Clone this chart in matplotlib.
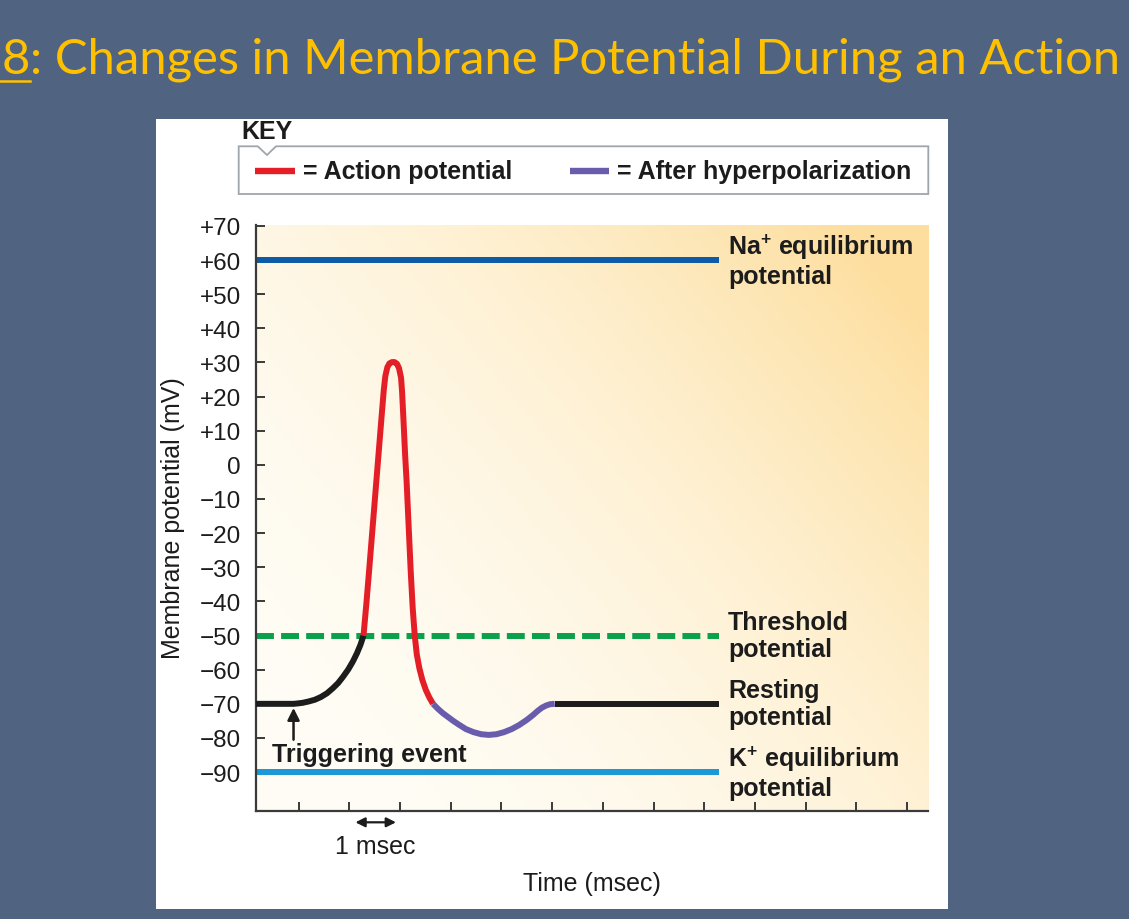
"""Changes in membrane potential during an action potential (slide figure)."""

import numpy as np
import matplotlib
matplotlib.use("Agg")
import matplotlib.pyplot as plt
from matplotlib.lines import Line2D
from matplotlib.patches import Polygon, Rectangle

# time in msec, potential in mV
REST_T = [0.16, 0.90, 0.97, 1.08, 1.20, 1.32, 1.44, 1.56, 1.67, 1.78, 1.88, 1.98, 2.07, 2.15, 2.22, 2.28]
REST_V = [-70, -70, -69.9, -69.7, -69.3, -68.8, -68.0, -66.9, -65.5, -63.9, -62.0, -59.9, -57.6, -55.2, -52.7, -50.0]

SPIKE_T = [2.28, 2.34, 2.39, 2.45, 2.51, 2.57, 2.63, 2.68, 2.71, 2.75, 2.79, 2.84, 2.89, 2.94,
           2.98, 3.02, 3.04, 3.07, 3.10, 3.13, 3.17, 3.21, 3.25, 3.29, 3.33, 3.38, 3.44, 3.51,
           3.58, 3.65]
SPIKE_V = [-50, -40, -31, -20, -9, 2, 13, 22, 26, 28.6, 29.7, 30.1, 30.1, 29.6,
           28.3, 25.5, 21.5, 12.5, 3, -5, -18, -31, -42, -50, -55.5, -59.5, -63, -66,
           -68.2, -70]

AHP_T = [3.65, 3.75, 3.85, 3.95, 4.05, 4.15, 4.30, 4.45, 4.60, 4.75, 4.90, 5.05, 5.20, 5.35,
         5.50, 5.62, 5.72, 5.80, 5.88, 5.96, 6.05]
AHP_V = [-70, -71.5, -72.8, -73.9, -75.0, -76.0, -77.4, -78.3, -78.9, -79.1, -78.9, -78.3, -77.4, -76.2,
         -74.7, -73.3, -72.0, -71.1, -70.5, -70.1, -70]

POST_T = [6.05, 9.29]
POST_V = [-70, -70]

NA_MV = 60
THRESHOLD_MV = -50
REST_MV = -70
K_MV = -90
LEVEL_START, LEVEL_END = 0.16, 9.29

LEVEL_MV = [NA_MV, THRESHOLD_MV, REST_MV, K_MV]
LEVEL_LABELS = [
    "Na$^{\\mathbf{+}}$ equilibrium\npotential",
    "Threshold\npotential",
    "Resting\npotential",
    "K$^{\\mathbf{+}}$ equilibrium\npotential",
]

TRIGGER_T = 0.90

YTICKS = [70, 60, 50, 40, 30, 20, 10, 0, -10, -20, -30, -40, -50, -60, -70, -80, -90]
YTICK_LABELS = ["+70", "+60", "+50", "+40", "+30", "+20", "+10", "0", "\u221210", "\u221220",
                "\u221230", "\u221240", "\u221250", "\u221260", "\u221270", "\u221280", "\u221290"]
XTICKS = list(range(1, 14))

TITLE_NUM = "8"
TITLE_REST = ": Changes in Membrane Potential During an Action"

SLATE = "#506482"
GOLD = "#ffc000"
RED = "#e41e26"
PURPLE = "#6a5cad"
NAVY = "#0d5aa7"
SKY = "#1b98d6"
GREEN = "#0aa14a"
INK = "#1c1c1c"

W, H = 1129, 920
LW = 4.3
FS = 18

plt.rcParams["font.family"] = ["Liberation Sans", "DejaVu Sans"]
plt.rcParams["mathtext.fontset"] = "custom"
plt.rcParams["mathtext.rm"] = "Liberation Sans"
plt.rcParams["mathtext.bf"] = "Liberation Sans:bold"


def _fx(px):
    return px / W


def _fy(py):
    return 1 - py / H


fig = plt.figure(figsize=(W / 100, H / 100), dpi=100, facecolor=SLATE)

# white slide panel (behind the axes)
fig.patches.append(Rectangle((_fx(156), _fy(910)), (948 - 156) / W, (910 - 120) / H,
                             transform=fig.transFigure, facecolor="white",
                             edgecolor="none", zorder=-5))

# title, with underlined figure number
t8 = fig.text(_fx(2), _fy(74), TITLE_NUM, color=GOLD, fontsize=35.3,
              family="Lato", va="baseline", ha="left")
fig.canvas.draw()
bb = t8.get_window_extent(fig.canvas.get_renderer())
fig.text(bb.x1 / W, _fy(74), TITLE_REST, color=GOLD, fontsize=35.3,
         family="Lato", va="baseline", ha="left")
fig.add_artist(Line2D([0, bb.x1 / W], [_fy(82), _fy(82)], color=GOLD, lw=1.8,
                      transform=fig.transFigure))

# key
fig.text(_fx(241), _fy(139), "KEY", fontsize=FS, weight="bold", color=INK, va="baseline")
box = [(238.7, 147.3), (257.7, 147.3), (267, 156), (276, 147.3), (928.3, 147.3),
       (928.3, 195), (238.7, 195)]
fig.patches.append(Polygon([(_fx(x), _fy(y)) for x, y in box], closed=True,
                           transform=fig.transFigure, facecolor="white",
                           edgecolor="#9ea6ac", lw=1.3, zorder=1))
fig.add_artist(Line2D([_fx(255), _fx(295)], [_fy(171.7)] * 2, color=RED, lw=4.6,
                      transform=fig.transFigure, solid_capstyle="butt"))
fig.text(_fx(302.7), _fy(179), "= Action potential", fontsize=FS, weight="bold",
         color=INK, va="baseline")
fig.add_artist(Line2D([_fx(570), _fx(609.3)], [_fy(171.7)] * 2, color=PURPLE, lw=4.6,
                      transform=fig.transFigure, solid_capstyle="butt"))
fig.text(_fx(616.7), _fy(179), "= After hyperpolarization", fontsize=FS, weight="bold",
         color=INK, va="baseline")

# plot area
ax = fig.add_axes([_fx(256), _fy(811.7), (928 - 256) / W, (811.7 - 225.5) / H])
ax.patch.set_visible(False)

xx, yy = np.meshgrid(np.linspace(0, 1, 300), np.linspace(0, 1, 300))
w = np.clip(0.62 * xx + 0.45 * yy, 0, 1) ** 2
c0 = np.array([255, 253, 246]) / 255
c1 = np.array([253, 222, 158]) / 255
grad = c0 * (1 - w[..., None]) + c1 * w[..., None]
ax.imshow(grad, extent=[0, 1, 0, 1], transform=ax.transAxes, origin="lower",
          aspect="auto", zorder=0, interpolation="bilinear")

ax.set_xlim(0.16, 13.41)
ax.set_ylim(-101.3, 70.4)

ax.hlines(NA_MV, LEVEL_START, LEVEL_END, color=NAVY, lw=LW, zorder=2)
ax.hlines(K_MV, LEVEL_START, LEVEL_END, color=SKY, lw=LW, zorder=2)
ax.plot([LEVEL_START, LEVEL_END], [THRESHOLD_MV] * 2, color=GREEN, lw=LW,
        dashes=(3.0, 1.2), dash_capstyle="butt", zorder=2)

kw = dict(lw=LW, solid_joinstyle="round", solid_capstyle="butt", zorder=3)
ax.plot(REST_T, REST_V, color=INK, **kw)
ax.plot(POST_T, POST_V, color=INK, **kw)
ax.plot(SPIKE_T, SPIKE_V, color=RED, **kw)
ax.plot(AHP_T, AHP_V, color=PURPLE, **kw)

for mv, label in zip(LEVEL_MV, LEVEL_LABELS):
    ax.text(9.47, mv, label, fontsize=FS, weight="bold", color=INK,
            ha="left", va="center", linespacing=1.15)

ax.annotate("", xy=(TRIGGER_T, -71.2), xytext=(TRIGGER_T, -80.5),
            arrowprops=dict(arrowstyle="-|>", color=INK, lw=1.8,
                            mutation_scale=18, shrinkA=0, shrinkB=0))
ax.text(0.47, -86.6, "Triggering event", fontsize=FS, weight="bold", color=INK,
        ha="left", va="baseline")

# 1 msec scale bar below the axis
ax.annotate("", xy=(2.12, -104.7), xytext=(2.92, -104.7), annotation_clip=False,
            arrowprops=dict(arrowstyle="<|-|>", color=INK, lw=1.6,
                            mutation_scale=14, shrinkA=0, shrinkB=0))
ax.text(2.51, -111.6, "1 msec", fontsize=FS, color=INK, ha="center", va="center",
        clip_on=False)

ax.set_yticks(YTICKS)
ax.set_yticklabels(YTICK_LABELS)
ax.set_xticks(XTICKS)
ax.set_xticklabels([])
ax.tick_params(axis="y", direction="in", length=6.5, width=1.4, color="#3a3a3a",
               labelsize=17.5, pad=11, labelcolor=INK)
ax.tick_params(axis="x", direction="in", length=6.5, width=1.4, color="#3a3a3a")
for side in ("top", "right"):
    ax.spines[side].set_visible(False)
for side in ("left", "bottom"):
    ax.spines[side].set_color("#3a3a3a")
    ax.spines[side].set_linewidth(1.6)

ax.set_ylabel("Membrane potential (mV)", fontsize=FS, color=INK)
ax.yaxis.set_label_coords(-0.106, 0.5)
ax.set_xlabel("Time (msec)", fontsize=FS, color=INK, va="top")
ax.xaxis.set_label_coords(0.5, -0.103)

fig.savefig("out.png", dpi=100, facecolor=fig.get_facecolor())
